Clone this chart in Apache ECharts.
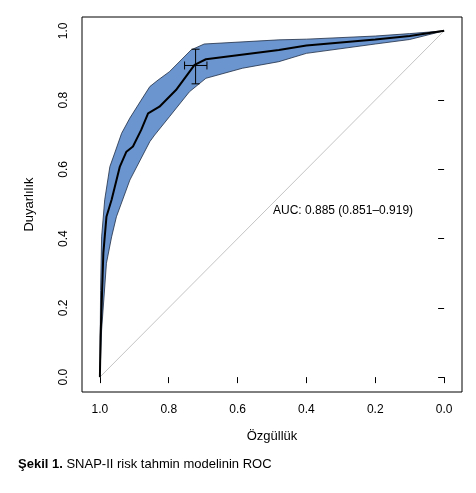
<!DOCTYPE html>
<html><head><meta charset="utf-8">
<script src="https://cdn.jsdelivr.net/npm/echarts@6/dist/echarts.min.js"></script>
<style>body{margin:0;background:#fff}#c{width:476px;height:493px}</style>
</head><body><div id="c"></div>
<script>
// ROC curve: [specificity, sensitivity]
var rocCurve = [[1,0],[0.998,0.116],[0.99,0.358],[0.981,0.463],[0.966,0.512],[0.942,0.608],[0.923,0.651],[0.904,0.666],[0.88,0.714],[0.86,0.762],[0.827,0.781],[0.779,0.829],[0.725,0.902],[0.692,0.918],[0.48,0.945],[0.4,0.958],[0.2,0.975],[0.1,0.985],[0,1]];
var upperBand = [[1,0],[0.998,0.25],[0.995,0.405],[0.986,0.512],[0.971,0.608],[0.957,0.647],[0.937,0.704],[0.913,0.748],[0.88,0.8],[0.855,0.839],[0.831,0.858],[0.798,0.882],[0.735,0.945],[0.697,0.962],[0.48,0.974],[0.4,0.976],[0.2,0.985],[0.1,0.992],[0,1]];
var lowerBand = [[1,0],[0.995,0.136],[0.981,0.329],[0.966,0.405],[0.952,0.463],[0.913,0.569],[0.855,0.68],[0.841,0.699],[0.798,0.752],[0.74,0.824],[0.692,0.863],[0.586,0.892],[0.48,0.911],[0.4,0.935],[0.2,0.962],[0.1,0.975],[0,1]];
var ciPoint = {spec: 0.722, specLo: 0.754, specHi: 0.689, sens: 0.9, sensLo: 0.847, sensHi: 0.947};
var tickValues = [0, 0.2, 0.4, 0.6, 0.8, 1];
var aucText = 'AUC: 0.885 (0.851–0.919)';

var myChart = echarts.init(document.getElementById('c'));
var font = 'Liberation Sans';
var polygon = upperBand.concat(lowerBand.slice().reverse());

option = {
    animation: false,
    textStyle: { fontFamily: font },
    grid: { left: 82, top: 17, width: 380, height: 375, show: true, borderColor: '#000', borderWidth: 1 },
    xAxis: {
        type: 'value', inverse: true, min: -0.052, max: 1.052,
        name: 'Özgüllük', nameLocation: 'middle', nameGap: 38,
        nameTextStyle: { color: '#000', fontSize: 13, fontFamily: font },
        axisLine: { show: false }, splitLine: { show: false },
        axisTick: { customValues: tickValues, length: 6, lineStyle: { color: '#000' } },
        axisLabel: { customValues: tickValues, color: '#000', fontSize: 12, margin: 12,
            formatter: function (v) { return v.toFixed(1); } }
    },
    yAxis: {
        type: 'value', min: -0.043, max: 1.04,
        name: 'Duyarlılık', nameLocation: 'middle', nameGap: 46, nameRotate: 90,
        nameTextStyle: { color: '#000', fontSize: 13, fontFamily: font },
        axisLine: { show: false }, splitLine: { show: false },
        axisTick: { customValues: tickValues, length: 6, lineStyle: { color: '#000' } },
        axisLabel: { customValues: tickValues, color: '#000', fontSize: 12, rotate: 90, margin: 12,
            formatter: function (v) { return v.toFixed(1); } }
    },
    series: [
        {
            type: 'line', data: [[1, 0], [0, 1]], symbol: 'none', silent: true,
            lineStyle: { color: '#b5b5b5', width: 0.8 }, z: 1
        },
        {
            type: 'custom', data: [0], z: 2,
            renderItem: function (params, api) {
                var pts = polygon.map(function (p) { return api.coord(p); });
                return { type: 'polygon', shape: { points: pts },
                    style: { fill: '#6b95cf', stroke: '#1f2d44', lineWidth: 0.8 } };
            }
        },
        {
            type: 'line', data: rocCurve, symbol: 'none', z: 3,
            lineStyle: { color: '#000', width: 2 }
        },
        {
            type: 'custom', data: [0], z: 4,
            renderItem: function (params, api) {
                var h1 = api.coord([ciPoint.specLo, ciPoint.sens]), h2 = api.coord([ciPoint.specHi, ciPoint.sens]);
                var v1 = api.coord([ciPoint.spec, ciPoint.sensLo]), v2 = api.coord([ciPoint.spec, ciPoint.sensHi]);
                var st = { stroke: '#000', lineWidth: 1 };
                return { type: 'group', children: [
                    { type: 'line', shape: { x1: h1[0], y1: h1[1], x2: h2[0], y2: h2[1] }, style: st },
                    { type: 'line', shape: { x1: h1[0], y1: h1[1] - 4, x2: h1[0], y2: h1[1] + 4 }, style: st },
                    { type: 'line', shape: { x1: h2[0], y1: h2[1] - 4, x2: h2[0], y2: h2[1] + 4 }, style: st },
                    { type: 'line', shape: { x1: v1[0], y1: v1[1], x2: v2[0], y2: v2[1] }, style: st },
                    { type: 'line', shape: { x1: v1[0] - 4, y1: v1[1], x2: v1[0] + 4, y2: v1[1] }, style: st },
                    { type: 'line', shape: { x1: v2[0] - 4, y1: v2[1], x2: v2[0] + 4, y2: v2[1] }, style: st }
                ] };
            }
        }
    ],
    graphic: [
        { type: 'text', left: 273, top: 205, style: { text: aucText, fontSize: 12, fill: '#000', fontFamily: font } },
        { type: 'text', left: 18, top: 458, style: {
            text: '{b|Şekil 1.} SNAP-II risk tahmin modelinin ROC',
            fontSize: 13, fill: '#000', fontFamily: font,
            rich: { b: { fontWeight: 'bold', fontSize: 13, fontFamily: font } } } }
    ]
};
myChart.setOption(option);
</script></body></html>
